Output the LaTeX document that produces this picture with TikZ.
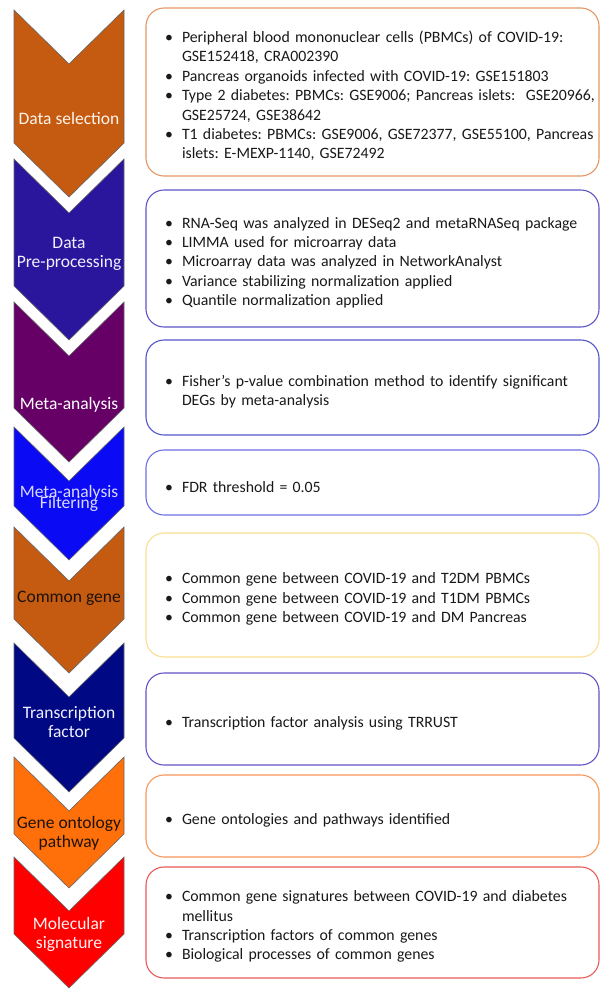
\documentclass[tikz,border=0pt]{standalone}
\usepackage{fontspec}
\setmainfont{Carlito}
\usepackage{enumitem}
\setlist[itemize]{nosep,leftmargin=16pt,rightmargin=-30pt,labelsep=9pt,label=\textbullet}

\definecolor{cSel}{RGB}{197,90,17}
\definecolor{cPre}{RGB}{42,22,156}
\definecolor{cMeta}{RGB}{102,0,102}
\definecolor{cFilt}{RGB}{10,10,245}
\definecolor{cGene}{RGB}{197,90,17}
\definecolor{cTF}{RGB}{0,8,132}
\definecolor{cGO}{RGB}{255,112,10}
\definecolor{cSig}{RGB}{255,0,0}
\definecolor{bSel}{RGB}{228,150,100}
\definecolor{bPre}{RGB}{95,85,200}
\definecolor{bMeta}{RGB}{85,85,205}
\definecolor{bFilt}{RGB}{110,110,230}
\definecolor{bGene}{RGB}{250,222,145}
\definecolor{bTF}{RGB}{100,82,200}
\definecolor{bGO}{RGB}{250,150,90}
\definecolor{bSig}{RGB}{235,90,90}

\tikzset{
  chev/.style={draw=black!60,line width=0.6pt},
  chevtext/.style={font=\fontsize{17.5}{19}\selectfont,align=center,inner sep=0pt},
  infobox/.style={draw,line width=1.1pt,rounded corners=18pt,minimum width=453pt,
    text width=413pt,inner xsep=20pt,inner ysep=0pt,align=left,
    font=\fontsize{15.8}{19.4}\selectfont\frenchspacing,text=black!90},
}

\begin{document}
\begin{tikzpicture}[x=1pt,y=-1pt]
   \useasboundingbox (0,0) rectangle (601,989);
   \fill[white] (0,0) rectangle (601,989);

   %flechas
   \draw[chev,fill=cSel]  (14,10)  -- (69,64)  -- (124,10)  -- (124,143) -- (69,197) -- (14,143) -- cycle;
   \draw[chev,fill=cPre]  (14,159) -- (69,213) -- (124,159) -- (124,286) -- (69,340) -- (14,286) -- cycle;
   \draw[chev,fill=cMeta] (14,302) -- (69,356) -- (124,302) -- (124,408) -- (69,462) -- (14,408) -- cycle;
   \draw[chev,fill=cFilt] (14,427) -- (69,481) -- (124,427) -- (124,506) -- (69,560) -- (14,506) -- cycle;
   \draw[chev,fill=cGene] (14,527) -- (69,581) -- (124,527) -- (124,619) -- (69,673) -- (14,619) -- cycle;
   \draw[chev,fill=cTF]   (14,643) -- (69,697) -- (124,643) -- (124,738) -- (69,792) -- (14,738) -- cycle;
   \draw[chev,fill=cGO]   (14,757) -- (69,811) -- (124,757) -- (124,834) -- (69,888) -- (14,834) -- cycle;
   \draw[chev,fill=cSig]  (14,857) -- (69,911) -- (124,857) -- (124,934) -- (69,988) -- (14,934) -- cycle;

   %etiquetas
   \node[chevtext,text=orange!8] (tsel) at (69,118) {Data selection};
   \node[chevtext,text=blue!6] (tpre) at (69,254) {Data\\Pre-processing};
   \node[chevtext,text=white] (tmeta) at (69,405) {Meta-analysis};
   \node[chevtext,text=blue!15,font={\fontsize{17.5}{11}\selectfont\lineskiplimit=-20pt}] (tfilt) at (69,498) {Meta-analysis\\Filtering};
   \node[chevtext,text=black!85!brown] (tgene) at (69,598) {Common gene};
   \node[chevtext,text=blue!6] (ttf) at (69,722) {Transcription\\factor};
   \node[chevtext,text=black!85!brown] (tgo) at (69,833) {Gene ontology\\pathway};
   \node[chevtext,text=red!5] (tsig) at (69,934) {Molecular\\signature};

   %cajas
   \node[infobox,draw=bSel,minimum height=168pt] (bsel) at (372.5,92) {%
     \begin{itemize}
     \item Peripheral blood mononuclear cells (PBMCs) of COVID-19:\newline GSE152418, CRA002390
     \item Pancreas organoids infected with COVID-19: GSE151803
     \item Type 2 diabetes: PBMCs: GSE9006; Pancreas islets:\ \ GSE20966,\newline GSE25724, GSE38642
     \item T1 diabetes: PBMCs: GSE9006, GSE72377, GSE55100, Pancreas\newline islets: E-MEXP-1140, GSE72492
     \end{itemize}};
   \node[infobox,draw=bPre,minimum height=137pt] (bpre) at (372.5,258.5) {%
     \begin{itemize}
     \item RNA-Seq was analyzed in DESeq2 and metaRNASeq package
     \item LIMMA used for microarray data
     \item Microarray data was analyzed in NetworkAnalyst
     \item Variance stabilizing normalization applied
     \item Quantile normalization applied
     \end{itemize}};
   \node[infobox,draw=bMeta,minimum height=95pt] (bmeta) at (372.5,387.5) {%
     \begin{itemize}
     \item Fisher’s p-value combination method to identify significant\newline DEGs by meta-analysis
     \end{itemize}};
   \node[infobox,draw=bFilt,minimum height=65pt] (bfilt) at (372.5,482.5) {%
     \begin{itemize}
     \item FDR threshold = 0.05
     \end{itemize}};
   \node[infobox,draw=bGene,minimum height=124pt] (bgene) at (372.5,595) {%
     \begin{itemize}
     \item Common gene between COVID-19 and T2DM PBMCs
     \item Common gene between COVID-19 and T1DM PBMCs
     \item Common gene between COVID-19 and DM Pancreas
     \end{itemize}};
   \node[infobox,draw=bTF,minimum height=92pt] (btf) at (372.5,719) {%
     \begin{itemize}
     \item Transcription factor analysis using TRRUST
     \end{itemize}};
   \node[infobox,draw=bGO,minimum height=82pt] (bgo) at (372.5,816) {%
     \begin{itemize}
     \item Gene ontologies and pathways identified
     \end{itemize}};
   \node[infobox,draw=bSig,minimum height=111pt] (bsig) at (372.5,922.5) {%
     \begin{itemize}
     \item Common gene signatures between COVID-19 and diabetes\newline mellitus
     \item Transcription factors of common genes
     \item Biological processes of common genes
     \end{itemize}};
\end{tikzpicture}
\end{document}
